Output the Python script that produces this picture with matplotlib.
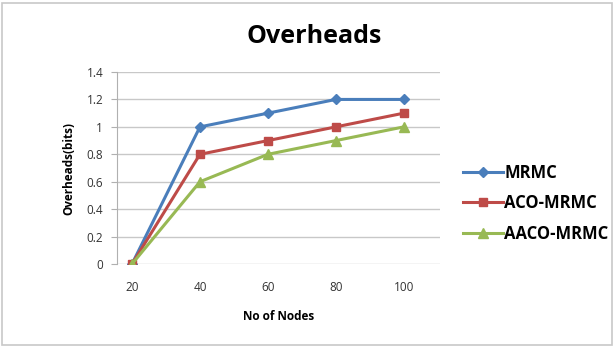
import matplotlib
matplotlib.use("Agg")
import matplotlib.pyplot as plt
from matplotlib.patches import Rectangle

categories = ["20", "40", "60", "80", "100"]
mrmc = [0, 1.0, 1.1, 1.2, 1.2]
aco_mrmc = [0, 0.8, 0.9, 1.0, 1.1]
aaco_mrmc = [0, 0.6, 0.8, 0.9, 1.0]
yticks = [0, 0.2, 0.4, 0.6, 0.8, 1, 1.2, 1.4]
ytick_labels = ["0", "0.2", "0.4", "0.6", "0.8", "1", "1.2", "1.4"]

plt.rcParams['font.family'] = ['Open Sans', 'DejaVu Sans']

fig = plt.figure(figsize=(6.16, 3.47), dpi=100)
fig.patches.append(Rectangle((0.004, 0.006), 0.99, 0.985, transform=fig.transFigure,
                             fill=False, edgecolor="#c8c8c8", linewidth=1.2))
ax = fig.add_axes([0.19, 0.239, 0.524, 0.5535])
x = list(range(len(categories)))
ax.plot(x, mrmc, color="#4a7ebb", marker="D", markersize=5, linewidth=2.2, label="MRMC")
ax.plot(x, aco_mrmc, color="#be4b48", marker="s", markersize=6, linewidth=2.2, label="ACO-MRMC")
ax.plot(x, aaco_mrmc, color="#98b954", marker="^", markersize=7, linewidth=2.2, label="AACO-MRMC")

ax.set_xlim(-0.22, 4.53)
ax.set_ylim(0, 1.4)
ax.set_xticks(x)
ax.set_xticklabels(categories, fontsize=8.5, color="#333333")
ax.set_yticks(yticks)
ax.set_yticklabels(ytick_labels, fontsize=8.5, color="#333333")
ax.yaxis.grid(True, color="#c8c8c8", linewidth=1)
ax.set_axisbelow(True)
for s in ["top", "right", "bottom"]:
    ax.spines[s].set_visible(False)
ax.spines["left"].set_color("#b0b0b0")
ax.tick_params(axis="x", length=0, pad=12)
ax.tick_params(axis="y", length=4, color="#b0b0b0", pad=6)

ax.set_xlabel("No of Nodes", fontsize=8.5, fontweight="bold", labelpad=12)
ax.set_ylabel("Overheads(bits)", fontsize=8.5, fontweight="bold", labelpad=8)
fig.text(0.51, 0.895, "Overheads", ha="center", va="center", fontsize=18, fontweight="bold")

fig.legend(*ax.get_legend_handles_labels(), loc="center left",
           bbox_to_anchor=(0.751, 1 - 203 / 347), frameon=False,
           prop={"weight": "bold", "size": 12}, handlelength=2.4, handletextpad=0.1,
           labelspacing=0.75, borderpad=0, borderaxespad=0)

fig.savefig("out.png", dpi=100)
